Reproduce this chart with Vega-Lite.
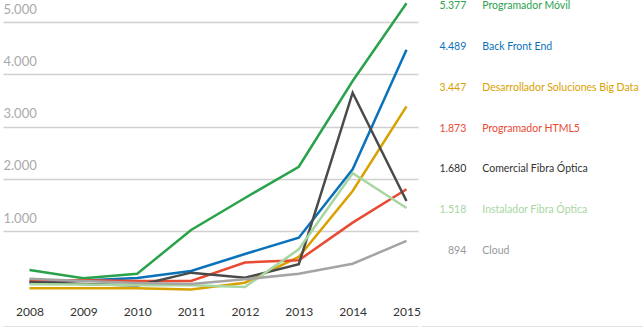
{
  "$schema": "https://vega.github.io/schema/vega-lite/v6.json",
  "padding": {"left": 3, "top": -2, "right": 0, "bottom": 0},
  "spacing": 0,
  "config": {
    "view": {"stroke": null},
    "font": "Lato",
    "axisX": {"offset": 26, "domainColor": "#c8c8c8", "domainWidth": 2, "ticks": false, "tickSize": 0, "grid": false, "labelPadding": -16, "labelBaseline": "middle", "labelFontSize": 12, "labelColor": "#333333", "title": null}
  },
  "datasets": {
    "lineas": [
      {"anio": 2008, "serie": "Programador Móvil", "valor": 258},
      {"anio": 2009, "serie": "Programador Móvil", "valor": 99},
      {"anio": 2010, "serie": "Programador Móvil", "valor": 185},
      {"anio": 2011, "serie": "Programador Móvil", "valor": 1023},
      {"anio": 2012, "serie": "Programador Móvil", "valor": 1635},
      {"anio": 2013, "serie": "Programador Móvil", "valor": 2233},
      {"anio": 2014, "serie": "Programador Móvil", "valor": 3872},
      {"anio": 2015, "serie": "Programador Móvil", "valor": 5360},
      {"anio": 2008, "serie": "Back Front End", "valor": 19},
      {"anio": 2009, "serie": "Back Front End", "valor": 57},
      {"anio": 2010, "serie": "Back Front End", "valor": 105},
      {"anio": 2011, "serie": "Back Front End", "valor": 239},
      {"anio": 2012, "serie": "Back Front End", "valor": 564},
      {"anio": 2013, "serie": "Back Front End", "valor": 876},
      {"anio": 2014, "serie": "Back Front End", "valor": 2184},
      {"anio": 2015, "serie": "Back Front End", "valor": 4470},
      {"anio": 2008, "serie": "Desarrollador Soluciones Big Data", "valor": -92},
      {"anio": 2009, "serie": "Desarrollador Soluciones Big Data", "valor": -92},
      {"anio": 2010, "serie": "Desarrollador Soluciones Big Data", "valor": -92},
      {"anio": 2011, "serie": "Desarrollador Soluciones Big Data", "valor": -115},
      {"anio": 2012, "serie": "Desarrollador Soluciones Big Data", "valor": 15},
      {"anio": 2013, "serie": "Desarrollador Soluciones Big Data", "valor": 507},
      {"anio": 2014, "serie": "Desarrollador Soluciones Big Data", "valor": 1769},
      {"anio": 2015, "serie": "Desarrollador Soluciones Big Data", "valor": 3388},
      {"anio": 2008, "serie": "Programador HTML5", "valor": 61},
      {"anio": 2009, "serie": "Programador HTML5", "valor": 63},
      {"anio": 2010, "serie": "Programador HTML5", "valor": 48},
      {"anio": 2011, "serie": "Programador HTML5", "valor": 48},
      {"anio": 2012, "serie": "Programador HTML5", "valor": 402},
      {"anio": 2013, "serie": "Programador HTML5", "valor": 444},
      {"anio": 2014, "serie": "Programador HTML5", "valor": 1163},
      {"anio": 2015, "serie": "Programador HTML5", "valor": 1801},
      {"anio": 2008, "serie": "Comercial Fibra Óptica", "valor": 29},
      {"anio": 2009, "serie": "Comercial Fibra Óptica", "valor": -10},
      {"anio": 2010, "serie": "Comercial Fibra Óptica", "valor": -38},
      {"anio": 2011, "serie": "Comercial Fibra Óptica", "valor": 207},
      {"anio": 2012, "serie": "Comercial Fibra Óptica", "valor": 109},
      {"anio": 2013, "serie": "Comercial Fibra Óptica", "valor": 367},
      {"anio": 2014, "serie": "Comercial Fibra Óptica", "valor": 3648},
      {"anio": 2015, "serie": "Comercial Fibra Óptica", "valor": 1577},
      {"anio": 2008, "serie": "Instalador Fibra Óptica", "valor": -15},
      {"anio": 2009, "serie": "Instalador Fibra Óptica", "valor": -19},
      {"anio": 2010, "serie": "Instalador Fibra Óptica", "valor": -34},
      {"anio": 2011, "serie": "Instalador Fibra Óptica", "valor": -34},
      {"anio": 2012, "serie": "Instalador Fibra Óptica", "valor": -67},
      {"anio": 2013, "serie": "Instalador Fibra Óptica", "valor": 654},
      {"anio": 2014, "serie": "Instalador Fibra Óptica", "valor": 2107},
      {"anio": 2015, "serie": "Instalador Fibra Óptica", "valor": 1444},
      {"anio": 2008, "serie": "Cloud", "valor": 92},
      {"anio": 2009, "serie": "Cloud", "valor": 48},
      {"anio": 2010, "serie": "Cloud", "valor": 10},
      {"anio": 2011, "serie": "Cloud", "valor": -10},
      {"anio": 2012, "serie": "Cloud", "valor": 80},
      {"anio": 2013, "serie": "Cloud", "valor": 185},
      {"anio": 2014, "serie": "Cloud", "valor": 377},
      {"anio": 2015, "serie": "Cloud", "valor": 813}
    ],
    "etiquetas": [
      {"rank": 0, "serie": "Programador Móvil", "cifra": "5.377"},
      {"rank": 1, "serie": "Back Front End", "cifra": "4.489"},
      {"rank": 2, "serie": "Desarrollador Soluciones Big Data", "cifra": "3.447"},
      {"rank": 3, "serie": "Programador HTML5", "cifra": "1.873"},
      {"rank": 4, "serie": "Comercial Fibra Óptica", "cifra": "1.680"},
      {"rank": 5, "serie": "Instalador Fibra Óptica", "cifra": "1.518"},
      {"rank": 6, "serie": "Cloud", "cifra": "894"}
    ]
  },
  "hconcat": [
    {
      "width": 415,
      "height": 300,
      "data": {"name": "lineas"},
      "mark": {"type": "line", "strokeWidth": 2.5},
      "encoding": {
        "x": {"field": "anio", "type": "quantitative", "scale": {"domain": [2007.508, 2015.2135], "nice": false, "zero": false}, "axis": {"values": [2008, 2009, 2010, 2011, 2012, 2013, 2014, 2015], "format": "d", "labelFlush": false, "labelOverlap": false}},
        "y": {"field": "valor", "type": "quantitative", "scale": {"domain": [-335, 5402], "nice": false, "zero": false}, "axis": {"values": [1000, 2000, 3000, 4000, 5000], "labelExpr": "replace(format(datum.value, ','), ',', '.')", "labelAlign": "left", "labelBaseline": "alphabetic", "labelOffset": -9, "labelPadding": 0, "ticks": false, "tickSize": 0, "domain": false, "grid": true, "gridColor": "#d0d0d0", "gridWidth": 1.5, "labelColor": "#aaaaaa", "labelFontSize": 13, "title": null}},
        "color": {"field": "serie", "type": "nominal", "scale": {"domain": ["Programador Móvil", "Back Front End", "Desarrollador Soluciones Big Data", "Programador HTML5", "Comercial Fibra Óptica", "Instalador Fibra Óptica", "Cloud"], "range": ["#2aa24c", "#0a72bb", "#d9a100", "#e84a33", "#4a4a4a", "#a8d6a1", "#a6a4a2"]}, "legend": null}
      }
    },
    {
      "width": 225,
      "height": 300,
      "data": {"name": "etiquetas"},
      "encoding": {
        "x": {"datum": 0, "type": "quantitative", "scale": {"domain": [-1, 1], "nice": false}, "axis": {"labels": false, "grid": false, "ticks": false}},
        "y": {"field": "rank", "type": "quantitative", "scale": {"domain": [-0.135, 7.232], "reverse": true, "nice": false, "zero": false}, "axis": null},
        "color": {"field": "serie", "type": "nominal", "scale": {"domain": ["Programador Móvil", "Back Front End", "Desarrollador Soluciones Big Data", "Programador HTML5", "Comercial Fibra Óptica", "Instalador Fibra Óptica", "Cloud"], "range": ["#2aa24c", "#0a72bb", "#d9a100", "#e84a33", "#333333", "#a8d6a1", "#999999"]}, "legend": null}
      },
      "layer": [
        {"mark": {"type": "text", "align": "right", "baseline": "middle", "dx": -67.2, "fontSize": 10.5}, "encoding": {"text": {"field": "cifra"}}},
        {"mark": {"type": "text", "align": "left", "baseline": "middle", "dx": -51.2, "fontSize": 10.5}, "encoding": {"text": {"field": "serie"}}}
      ]
    }
  ],
  "resolve": {"scale": {"color": "independent"}}
}
